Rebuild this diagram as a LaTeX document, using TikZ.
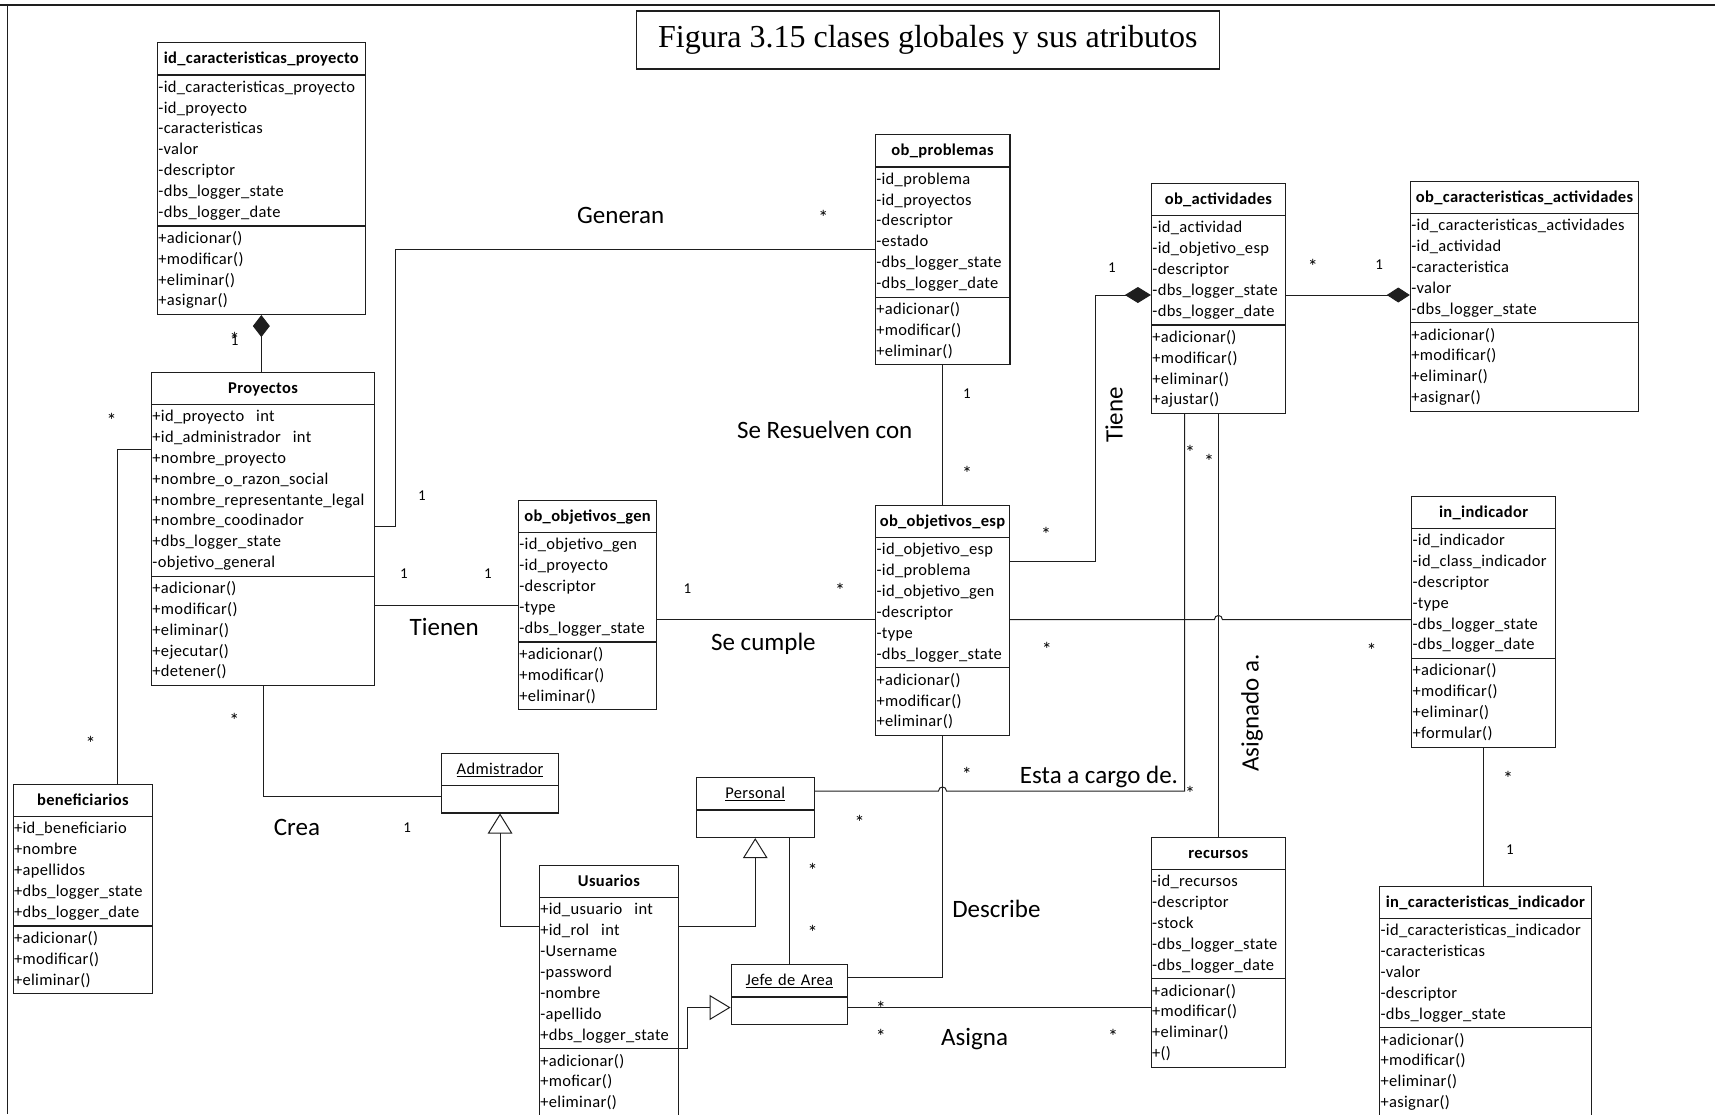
\documentclass[tikz,border=0pt]{standalone}
\usepackage{fontspec}
\setmainfont{Carlito}
\newfontfamily\titlefont{Liberation Serif}
\newfontfamily\clsfont[LetterSpace=2]{Carlito}
\usetikzlibrary{shapes.multipart,arrows.meta,calc}

\definecolor{ink}{RGB}{30,30,30}

% row struts: attribute/method line, header line, empty compartment
\newcommand\rw{\rule[-6.1pt]{0pt}{20.85pt}}
\newcommand\rh{\rule[-8.5pt]{0pt}{27pt}}
\newcommand\re{\rule[-6pt]{0pt}{22.5pt}}
% centred class name in the first compartment
\newcommand\cname[1]{\makebox[\linewidth][c]{\bfseries\rh #1}}
\newcommand\oname[1]{\makebox[\linewidth][c]{\rh\underline{#1}}}

\tikzset{
  umlclass/.style={draw=ink, line width=1.1pt, rectangle split, rectangle split parts=3,
    anchor=north west, inner xsep=1pt, inner ysep=2pt, text width=#1, align=left,
    font=\clsfont\fontsize{16.5}{20.85}\selectfont, text=black},
  umlactor/.style={umlclass=#1, rectangle split parts=2},
  link/.style={draw=ink, line width=1pt},
  mult/.style={font=\fontsize{15}{18}\selectfont, inner sep=0pt},
  star/.style={font=\fontsize{20}{24}\selectfont, inner sep=0pt, yshift=-3.4pt},
  role/.style={font=\fontsize{25}{30}\selectfont, inner sep=0pt},
  gen/.style={-{Triangle[open,length=20pt,width=24.6pt]}},
}

\begin{document}
\begin{tikzpicture}[x=1pt,y=-1pt]
\useasboundingbox (0,0) rectangle (1715,1114);

% page frame
\draw[ink, line width=2.6pt] (0,5) -- (1715,5);
\draw[ink, line width=1.3pt] (7.5,5) -- (7.5,1114);

% caption
\node[draw=ink, line width=1.6pt, minimum width=583pt, minimum height=58pt, anchor=north west,
      inner sep=0pt, font=\titlefont\fontsize{32}{38}\selectfont] (title) at (635.5,10)
      {Figura 3.15 clases globales y sus atributos};

% ---------- classes ----------
\node[umlclass=205.8] (idcp) at (156.9,42.3) {\cname{id\_caracteristicas\_proyecto}
  \nodepart{two}\rw-id\_caracteristicas\_proyecto\\\rw-id\_proyecto\\\rw-caracteristicas\\\rw-valor\\\rw-descriptor\\\rw-dbs\_logger\_state\\\rw-dbs\_logger\_date
  \nodepart{three}\rw+adicionar()\\\rw+modificar()\\\rw+eliminar()\\\rw+asignar()};

\node[umlclass=221.2] (proy) at (150.9,371.7) {\cname{Proyectos}
  \nodepart{two}\rw+id\_proyecto\hspace{12pt}int\\\rw+id\_administrador\hspace{12pt}int\\\rw+nombre\_proyecto\\\rw+nombre\_o\_razon\_social\\\rw+nombre\_representante\_legal\\\rw+nombre\_coodinador\\\rw+dbs\_logger\_state\\\rw-objetivo\_general
  \nodepart{three}\rw+adicionar()\\\rw+modificar()\\\rw+eliminar()\\\rw+ejecutar()\\\rw+detener()};

\node[umlclass=132.7] (prob) at (874.7,134.3) {\cname{ob\_problemas}
  \nodepart{two}\rw-id\_problema\\\rw-id\_proyectos\\\rw-descriptor\\\rw-estado\\\rw-dbs\_logger\_state\\\rw-dbs\_logger\_date
  \nodepart{three}\rw+adicionar()\\\rw+modificar()\\\rw+eliminar()};

\node[umlclass=131.9] (act) at (1150.9,183) {\cname{ob\_actividades}
  \nodepart{two}\rw-id\_actividad\\\rw-id\_objetivo\_esp\\\rw-descriptor\\\rw-dbs\_logger\_state\\\rw-dbs\_logger\_date
  \nodepart{three}\rw+adicionar()\\\rw+modificar()\\\rw+eliminar()\\\rw+ajustar()};

\node[umlclass=226.4] (cact) at (1409.8,180.7) {\cname{ob\_caracteristicas\_actividades}
  \nodepart{two}\rw-id\_caracteristicas\_actividades\\\rw-id\_actividad\\\rw-caracteristica\\\rw-valor\\\rw-dbs\_logger\_state
  \nodepart{three}\rw+adicionar()\\\rw+modificar()\\\rw+eliminar()\\\rw+asignar()};

\node[umlclass=136.4] (gen) at (517.8,500) {\cname{ob\_objetivos\_gen}
  \nodepart{two}\rw-id\_objetivo\_gen\\\rw-id\_proyecto\\\rw-descriptor\\\rw-type\\\rw-dbs\_logger\_state
  \nodepart{three}\rw+adicionar()\\\rw+modificar()\\\rw+eliminar()};

\node[umlclass=131.9] (esp) at (875,505) {\cname{ob\_objetivos\_esp}
  \nodepart{two}\rw-id\_objetivo\_esp\\\rw-id\_problema\\\rw-id\_objetivo\_gen\\\rw-descriptor\\\rw-type\\\rw-dbs\_logger\_state
  \nodepart{three}\rw+adicionar()\\\rw+modificar()\\\rw+eliminar()};

\node[umlclass=142] (ind) at (1411,495.7) {\cname{in\_indicador}
  \nodepart{two}\rw-id\_indicador\\\rw-id\_class\_indicador\\\rw-descriptor\\\rw-type\\\rw-dbs\_logger\_state\\\rw-dbs\_logger\_date
  \nodepart{three}\rw+adicionar()\\\rw+modificar()\\\rw+eliminar()\\\rw+formular()};

\node[umlclass=137.7] (benef) at (12.5,784) {\cname{beneficiarios}
  \nodepart{two}\rw+id\_beneficiario\\\rw+nombre\\\rw+apellidos\\\rw+dbs\_logger\_state\\\rw+dbs\_logger\_date
  \nodepart{three}\rw+adicionar()\\\rw+modificar()\\\rw+eliminar()};

\node[umlclass=137.2] (usu) at (538.8,865) {\cname{Usuarios}
  \nodepart{two}\rw+id\_usuario\hspace{12pt}int\\\rw+id\_rol\hspace{12pt}int\\\rw-Username\\\rw-password\\\rw-nombre\\\rw-apellido\\\rw+dbs\_logger\_state
  \nodepart{three}\rw+adicionar()\\\rw+moficar()\\\rw+eliminar()};

\node[umlclass=132.5] (rec) at (1150.5,836.7) {\cname{recursos}
  \nodepart{two}\rw-id\_recursos\\\rw-descriptor\\\rw-stock\\\rw-dbs\_logger\_state\\\rw-dbs\_logger\_date
  \nodepart{three}\rw+adicionar()\\\rw+modificar()\\\rw+eliminar()\\\rw+()};

\node[umlclass=209.7] (icind) at (1379,885.7) {\cname{in\_caracteristicas\_indicador}
  \nodepart{two}\rw-id\_caracteristicas\_indicador\\\rw-caracteristicas\\\rw-valor\\\rw-descriptor\\\rw-dbs\_logger\_state
  \nodepart{three}\rw+adicionar()\\\rw+modificar()\\\rw+eliminar()\\\rw+asignar()};

\node[umlactor=115] (adm) at (441,752.7) {\oname{Admistrador}\nodepart{two}\re};
\node[umlactor=115.8] (per) at (695.8,777.3) {\oname{Personal}\nodepart{two}\re};
\node[umlactor=114.3] (jefe) at (730.6,964.3) {\oname{Jefe de Area}\nodepart{two}\re};

% ---------- associations ----------
% composition: characteristics of a project
\draw[link, {Diamond[length=22pt,width=17pt]}-] (idcp.south) -- (idcp.south |- proy.north);

% Generan
\coordinate (pB) at ([yshift=-155pt]proy.north east);
\coordinate (kB) at (395.2,0);
\draw[link] (prob.west) -| (kB |- pB) -- (pB);

% Tienen
\coordinate (pC) at ([yshift=-233.3pt]proy.north east);
\draw[link] (pC) -- (pC -| gen.west);

% Proyectos - beneficiarios
\coordinate (pD) at ([yshift=-77.3pt]proy.north west);
\coordinate (kD) at (117.4,0);
\draw[link] (pD) -| (kD |- benef.north);

% Crea
\coordinate (pE) at ([yshift=-44pt]adm.north west);
\draw[link] (proy.south) |- (pE);

% generalisations of Usuarios
\coordinate (uL) at ([yshift=-61.7pt]usu.north west);
\draw[link, gen] (uL) -| (adm.south);
\coordinate (uR) at ([yshift=-61.7pt]usu.north east);
\draw[link, gen] (uR) -| (per.south);
\coordinate (uR2) at ([yshift=-183.7pt]usu.north east);
\coordinate (kH) at (687.5,0);
\coordinate (jL) at ([yshift=-43.2pt]jefe.north west);
\draw[link, -{Triangle[open,length=21pt,width=25pt]}] (uR2) -| (kH |- jL) -- (jL);

% Personal - Jefe de Area
\coordinate (pI) at ([xshift=-24.9pt]per.south east);
\draw[link] (pI) -- (pI |- jefe.north);

% Describe
\coordinate (jR) at ([yshift=-13.4pt]jefe.north east);
\draw[link] (esp.south) |- (jR);

% Esta a cargo de.
\coordinate (pJ) at ([yshift=-13.7pt]per.north east);
\coordinate (kJ) at ([xshift=33.8pt]act.south west);
\coordinate (hJ) at (esp.south |- pJ);
\draw[link] (pJ) -- ($(hJ)+(-4,0)$) .. controls ($(hJ)+(-4,-5.3)$) and ($(hJ)+(4,-5.3)$) .. ($(hJ)+(4,0)$) -| (kJ);

% Se Resuelven con
\draw[link] (prob.south) -- (prob.south |- esp.north);

% Se cumple
\coordinate (pM) at ([yshift=-119.3pt]gen.north east);
\draw[link] (pM) -- (pM -| esp.west);

% Tiene
\coordinate (pN) at ([yshift=-112pt]act.north west);
\coordinate (eN) at ([yshift=-56.7pt]esp.north east);
\coordinate (kN) at (1095.7,0);
\draw[link, {Diamond[length=26pt,width=16pt]}-] (pN) -| (kN |- eN) -- (eN);

% activities - characteristics
\coordinate (pO) at ([yshift=-112pt]act.north east);
\draw[link, -{Diamond[length=23pt,width=15pt]}] (pO) -- (pO -| cact.west);

% objetivos_esp - indicador
\coordinate (pP) at ([yshift=-114.5pt]esp.north east);
\coordinate (hP) at (act.south |- pP);
\draw[link] (pP) -- ($(hP)+(-4,0)$) .. controls ($(hP)+(-4,-5.3)$) and ($(hP)+(4,-5.3)$) .. ($(hP)+(4,0)$) -- (pP -| ind.west);

% Asignado a.
\draw[link] (act.south) -- (act.south |- rec.north);

% Asigna
\coordinate (pR) at ([yshift=-43pt]jefe.north east);
\draw[link] (pR) -- (pR -| rec.west);

% indicador - caracteristicas
\draw[link] (ind.south) -- (ind.south |- icind.north);

% ---------- association names ----------
\node[role] (lGeneran) at (620.7,215.5) {Generan};
\node[role] (lTienen) at (444.2,626.7) {Tienen};
\node[role] (lCumple) at (763.4,644) {Se cumple};
\node[role] (lResuelven) at (824.7,430) {Se Resuelven con};
\node[role] (lCrea) at (296.9,827.7) {Crea};
\node[role] (lDescribe) at (996.4,909.3) {Describe};
\node[role] (lAsigna) at (974.6,1039.5) {Asigna};
\node[role] (lCargo) at (1099,776.5) {Esta a cargo de.};
\node[role, rotate=90] (lTiene) at (1114,415) {Tiene};
\node[role, rotate=90] (lAsignado) at (1252,713) {Asignado a.};

% ---------- multiplicities ----------
\node[star] (s1) at (234.6,336) {*};
\node[mult] (n1) at (234.6,341) {1};
\node[star] (s2) at (823.4,214.3) {*};
\node[mult] (n2) at (421.9,496) {1};
\node[mult] (n3) at (404,573.3) {1};
\node[mult] (n4) at (488,573.3) {1};
\node[star] (s3) at (111.6,417) {*};
\node[star] (s4) at (90.6,739.5) {*};
\node[star] (s5) at (234.4,716.5) {*};
\node[mult] (n5) at (407.1,827.7) {1};
\node[star] (s6) at (966.8,771) {*};
\node[star] (s7) at (1190,790) {*};
\node[star] (s8) at (1190,448.7) {*};
\node[star] (s9) at (859.7,819.2) {*};
\node[star] (s10) at (812.7,867) {*};
\node[star] (s11) at (812.7,928.5) {*};
\node[mult] (n6) at (967,393.8) {1};
\node[star] (s12) at (967,470.3) {*};
\node[mult] (n7) at (687.5,588.3) {1};
\node[star] (s13) at (840.2,586.7) {*};
\node[star] (s14) at (1046,531) {*};
\node[mult] (n8) at (1112,267.3) {1};
\node[star] (s15) at (1312.8,263.3) {*};
\node[mult] (n9) at (1379.2,265) {1};
\node[star] (s16) at (1046.8,646.4) {*};
\node[star] (s17) at (1371.7,646.7) {*};
\node[star] (s18) at (1209,458) {*};
\node[star] (s19) at (880.9,1005) {*};
\node[star] (s20) at (880.9,1033.3) {*};
\node[star] (s21) at (1113,1033.3) {*};
\node[star] (s22) at (1508,775) {*};
\node[mult] (n10) at (1510,850) {1};

\end{tikzpicture}
\end{document}
